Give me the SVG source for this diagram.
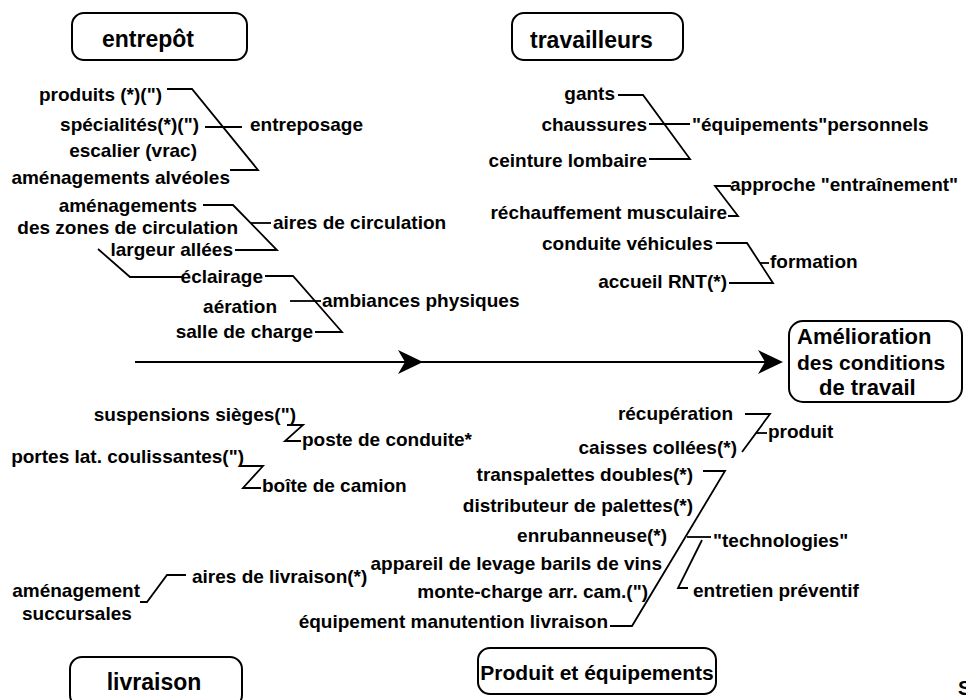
<svg xmlns="http://www.w3.org/2000/svg" width="966" height="700" viewBox="0 0 966 700">
  <style>
    .t { font-family: "Liberation Sans", Arial, Helvetica, sans-serif; font-weight: bold; font-size: 19px; fill: #000; }
    .e { text-anchor: end; }
    .m { text-anchor: middle; }
    .h { font-size: 23px; }
    .box { fill: #fff; stroke: #000; stroke-width: 2; }
    .c { fill: none; stroke: #000; stroke-width: 1.8; stroke-linejoin: miter; }
  </style>
  <defs>
    <!-- notched arrowhead, tip at the origin, pointing right -->
    <path id="head" d="M0,0 L-25,-12 L-18,0 L-25,12 Z" fill="#000"/>
  </defs>
  <rect width="966" height="700" fill="#fff"/>

  <!-- connectors -->
  <g id="connectors">
    <!-- entreposage -->
    <path class="c" d="M167,89 H192 L258,170 H230"/>
    <path class="c" d="M205,127 H242"/>
    <!-- aires de circulation -->
    <path class="c" d="M203,205 H233 L277,250 H235"/>
    <path class="c" d="M251,223 H271"/>
    <!-- ambiances physiques -->
    <path class="c" d="M182,277 H130 L98,249"/>
    <path class="c" d="M265,276 H293 L342,332 H315"/>
    <path class="c" d="M290,301 H321"/>
    <!-- équipements personnels -->
    <path class="c" d="M618,95 H643 L690,159 H649"/>
    <path class="c" d="M649,124 H690"/>
    <!-- approche entraînement -->
    <path class="c" d="M731,186 H715 L738,216 H728"/>
    <!-- formation -->
    <path class="c" d="M716,243 H747 L773,283 H729"/>
    <path class="c" d="M760,263 H769"/>
    <!-- main axis -->
    <path class="c" d="M135,362 H772" stroke-width="2.4"/>
    <use href="#head" x="423" y="362"/>
    <use href="#head" x="783" y="362"/>
    <!-- poste de conduite -->
    <path class="c" d="M287,425 H303 L285,441 H301"/>
    <!-- boîte de camion -->
    <path class="c" d="M240,466 H263 L243,488 H261"/>
    <!-- aires de livraison -->
    <path class="c" d="M140,602 H147 L167,575 H186"/>
    <!-- produit -->
    <path class="c" d="M745,414 H770 L742,452"/>
    <path class="c" d="M756,433 H767"/>
    <!-- technologies -->
    <path class="c" d="M703,471 H725 L632,626 H610"/>
    <path class="c" d="M687,537 H711"/>
    <path class="c" d="M702,540 L678,588 H688"/>
  </g>

  <!-- category boxes -->
  <g id="entrepot">
    <rect class="box" x="72" y="13" width="175" height="47" rx="12"/>
    <text class="t h" x="102" y="47">entrepôt</text>
  </g>
  <g id="travailleurs">
    <rect class="box" x="512" y="13" width="171" height="47" rx="12"/>
    <text class="t h" x="530" y="48">travailleurs</text>
  </g>
  <g id="amelioration">
    <rect class="box" x="789" y="321" width="173" height="81" rx="14"/>
    <text class="t" x="797" y="344" style="font-size:22px">Amélioration</text>
    <text class="t" x="797" y="370" style="font-size:21px">des conditions</text>
    <text class="t" x="819" y="395" style="font-size:22px">de travail</text>
  </g>
  <g id="livraison">
    <rect class="box" x="70" y="657" width="172" height="50" rx="12"/>
    <text class="t h m" x="154" y="690">livraison</text>
  </g>
  <g id="produit-equipements">
    <rect class="box" x="478" y="648" width="238" height="46" rx="12"/>
    <text class="t m" x="597" y="680" style="font-size:21px">Produit et équipements</text>
  </g>

  <!-- entrepôt causes -->
  <g id="produits"><text class="t e" x="162" y="101">produits (*)(")</text></g>
  <g id="specialites"><text class="t e" x="199" y="131">spécialités(*)(")</text></g>
  <g id="escalier"><text class="t e" x="197" y="157">escalier (vrac)</text></g>
  <g id="alveoles"><text class="t e" x="230" y="184">aménagements alvéoles</text></g>
  <g id="entreposage"><text class="t" x="250" y="131">entreposage</text></g>
  <g id="zones">
    <text class="t e" x="197" y="212">aménagements</text>
    <text class="t e" x="238" y="234">des zones de circulation</text>
  </g>
  <g id="largeur"><text class="t e" x="233" y="256">largeur allées</text></g>
  <g id="aires-circulation"><text class="t" x="273" y="229">aires de circulation</text></g>
  <g id="eclairage"><text class="t e" x="263" y="283">éclairage</text></g>
  <g id="aeration"><text class="t e" x="277" y="313">aération</text></g>
  <g id="salle"><text class="t e" x="313" y="338">salle de charge</text></g>
  <g id="ambiances"><text class="t" x="322" y="307">ambiances physiques</text></g>

  <!-- travailleurs causes -->
  <g id="gants"><text class="t e" x="615" y="100">gants</text></g>
  <g id="chaussures"><text class="t e" x="647" y="131">chaussures</text></g>
  <g id="ceinture"><text class="t e" x="647" y="167">ceinture lombaire</text></g>
  <g id="equipements-personnels"><text class="t" x="692" y="131">"équipements"personnels</text></g>
  <g id="approche"><text class="t" x="730" y="191">approche "entraînement"</text></g>
  <g id="rechauffement"><text class="t e" x="727" y="219">réchauffement musculaire</text></g>
  <g id="conduite"><text class="t e" x="713" y="250">conduite véhicules</text></g>
  <g id="accueil"><text class="t e" x="727" y="288">accueil RNT(*)</text></g>
  <g id="formation"><text class="t" x="770" y="268">formation</text></g>

  <!-- livraison causes -->
  <g id="suspensions"><text class="t e" x="296" y="421">suspensions sièges(")</text></g>
  <g id="poste"><text class="t" x="302" y="446">poste de conduite*</text></g>
  <g id="portes"><text class="t e" x="244" y="463">portes lat. coulissantes(")</text></g>
  <g id="boite"><text class="t" x="262" y="492">boîte de camion</text></g>
  <g id="amenagement-succursales">
    <text class="t e" x="140" y="597">aménagement</text>
    <text class="t" x="22" y="620">succursales</text>
  </g>
  <g id="aires-livraison"><text class="t" x="192" y="583">aires de livraison(*)</text></g>

  <!-- produit et équipements causes -->
  <g id="recuperation"><text class="t e" x="733" y="420">récupération</text></g>
  <g id="caisses"><text class="t e" x="737" y="454">caisses collées(*)</text></g>
  <g id="produit"><text class="t" x="768" y="438">produit</text></g>
  <g id="transpalettes"><text class="t e" x="693" y="481">transpalettes doubles(*)</text></g>
  <g id="distributeur"><text class="t e" x="693" y="512">distributeur de palettes(*)</text></g>
  <g id="enrubanneuse"><text class="t e" x="667" y="542">enrubanneuse(*)</text></g>
  <g id="appareil"><text class="t e" x="662" y="570">appareil de levage barils de vins</text></g>
  <g id="monte-charge"><text class="t e" x="648" y="598">monte-charge arr. cam.(")</text></g>
  <g id="manutention"><text class="t e" x="608" y="628">équipement manutention livraison</text></g>
  <g id="technologies"><text class="t" x="713" y="547">"technologies"</text></g>
  <g id="entretien"><text class="t" x="693" y="597">entretien préventif</text></g>

  <!-- page fragment at the edge -->
  <text class="t" x="958" y="695" style="font-size:20px">S</text>
</svg>
